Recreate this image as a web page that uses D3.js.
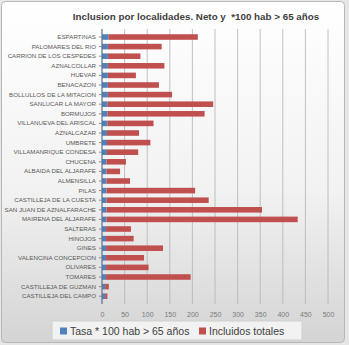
<!DOCTYPE html>
<html>
<head>
<meta charset="utf-8">
<script src="https://cdn.jsdelivr.net/npm/d3@7"></script>
<style>
  body { margin: 0; background: #e6e6e6; }
  svg { display: block; }
</style>
</head>
<body>
<div id="chart-area"></div>
<script>
const W = 349, H = 345

const localidades = [
  "ESPARTINAS", "PALOMARES DEL RIO", "CARRION DE LOS CESPEDES", "AZNALCOLLAR",
  "HUEVAR", "BENACAZON", "BOLLULLOS DE LA MITACION", "SANLUCAR LA MAYOR",
  "BORMUJOS", "VILLANUEVA DEL ARISCAL", "AZNALCAZAR", "UMBRETE",
  "VILLAMANRIQUE CONDESA", "CHUCENA", "ALBAIDA DEL ALJARAFE", "ALMENSILLA",
  "PILAS", "CASTILLEJA DE LA CUESTA", "SAN JUAN DE AZNALFARACHE", "MAIRENA DEL ALJARAFE",
  "SALTERAS", "HINOJOS", "GINES", "VALENCINA CONCEPCION",
  "OLIVARES", "TOMARES", "CASTILLEJA DE GUZMAN", "CASTILLEJA DEL CAMPO"
]
// Tasa * 100 hab > 65 años
const tasa = [14, 13, 13, 13, 13, 13, 13, 12, 12, 12, 11, 11, 11, 10,
              10, 10, 10, 10, 10, 10, 9, 9, 9, 9, 9, 9, 7, 7]
// Incluidos totales
const incluidos = [198, 119, 72, 125, 62, 113, 142, 234, 215, 102, 71, 96, 69, 43,
                   30, 52, 196, 226, 344, 423, 55, 61, 126, 84, 94, 187, 8, 5]
const xTicks = [0, 50, 100, 150, 200, 250, 300, 350, 400, 450, 500]

const BLUE = "#4f81bd", RED = "#c0504d"

const data = localidades.map((name, i) => ({name, tasa: tasa[i], incluidos: incluidos[i]}))

const x = d3.scaleLinear().domain([0, 500]).range([102, 328])
const y = d3.scaleBand().domain(localidades).range([32.2, 301]).paddingInner(0.42).paddingOuter(0.21)

const svg = d3.select("#chart-area").append("svg")
  .attr("width", W)
  .attr("height", H)

const defs = svg.append("defs")
const grad = defs.append("linearGradient")
    .attr("id", "bg").attr("x1", 0).attr("y1", 0).attr("x2", 0).attr("y2", 1)
grad.append("stop").attr("offset", "0%").attr("stop-color", "#ffffff")
grad.append("stop").attr("offset", "55%").attr("stop-color", "#f2f2f2")
grad.append("stop").attr("offset", "100%").attr("stop-color", "#d4d4d4")

svg.append("rect")
    .attr("x", 1.5).attr("y", 1.5)
    .attr("width", W - 6).attr("height", H - 4)
    .attr("rx", 4)
    .attr("fill", "url(#bg)")
    .attr("stroke", "#b8b8b8")

svg.append("text")
    .attr("x", 196).attr("y", 20)
    .attr("text-anchor", "middle")
    .attr("font-family", "Liberation Sans, Arial, sans-serif")
    .attr("font-weight", "bold")
    .attr("font-size", 9.8)
    .attr("fill", "#404040")
    .attr("xml:space", "preserve")
    .text("Inclusion por localidades. Neto y  *100 hab > 65 años")

// gridlines
svg.append("g")
  .selectAll("line")
  .data(xTicks.slice(1))
  .join("line")
    .attr("x1", d => x(d)).attr("x2", d => x(d))
    .attr("y1", 29).attr("y2", 304)
    .attr("stroke", "#b3b3b3")
    .attr("stroke-width", 0.8)

// stacked bars
svg.append("g")
    .attr("fill", BLUE)
  .selectAll("rect")
  .data(data)
  .join("rect")
    .attr("x", x(0))
    .attr("y", d => y(d.name))
    .attr("width", d => x(d.tasa) - x(0))
    .attr("height", y.bandwidth())

svg.append("g")
    .attr("fill", RED)
  .selectAll("rect")
  .data(data)
  .join("rect")
    .attr("x", d => x(d.tasa))
    .attr("y", d => y(d.name))
    .attr("width", d => x(d.tasa + d.incluidos) - x(d.tasa))
    .attr("height", y.bandwidth())

// y axis
const yAxis = svg.append("g")
    .attr("transform", `translate(${x(0)},0)`)
    .call(d3.axisLeft(y).tickSize(3).tickPadding(3))
yAxis.select(".domain").attr("stroke", "#5a6f8c").attr("stroke-width", 1.2)
  .attr("d", `M0,29V304`)
yAxis.selectAll(".tick line").attr("stroke", "#8a8a8a")
yAxis.selectAll(".tick text")
    .attr("font-family", "Liberation Sans, Arial, sans-serif")
    .attr("font-size", 6.2)
    .attr("fill", "#595959")

// x axis labels
const xAxis = svg.append("g")
    .attr("transform", `translate(0,304)`)
    .call(d3.axisBottom(x).tickValues(xTicks).tickSize(0).tickPadding(8))
xAxis.select(".domain").remove()
xAxis.selectAll(".tick text")
    .attr("font-family", "Liberation Sans, Arial, sans-serif")
    .attr("font-size", 7)
    .attr("fill", "#7a7a7a")

// legend
const legend = svg.append("g")
legend.append("rect")
    .attr("x", 52).attr("y", 321)
    .attr("width", 250).attr("height", 19)
    .attr("fill", "#f2f2f2")
    .attr("stroke", "#d0d0d0")

const items = [
  {label: "Tasa * 100 hab > 65 años", color: BLUE, x: 60},
  {label: "Incluidos totales", color: RED, x: 199}
]
const li = legend.selectAll("g.item")
  .data(items)
  .join("g")
    .attr("class", "item")
    .attr("transform", d => `translate(${d.x},331)`)
li.append("rect")
    .attr("x", 0).attr("y", -3.5)
    .attr("width", 7).attr("height", 7)
    .attr("fill", d => d.color)
li.append("text")
    .attr("x", 10).attr("y", 0)
    .attr("dy", "0.35em")
    .attr("font-family", "Liberation Sans, Arial, sans-serif")
    .attr("font-size", 10.5)
    .attr("fill", "#404040")
    .text(d => d.label)
</script>
</body>
</html>
